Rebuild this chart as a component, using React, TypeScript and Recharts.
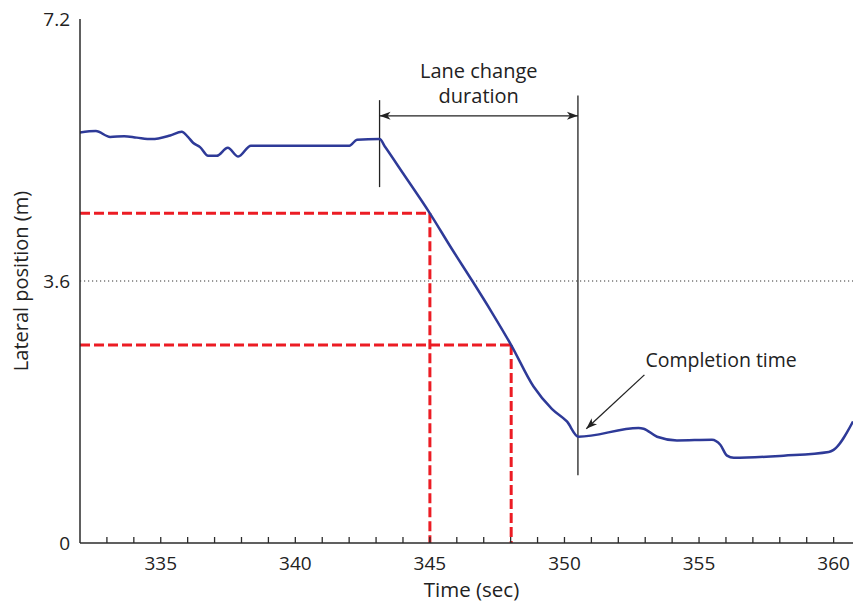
import { LineChart, Line, XAxis, YAxis, ReferenceLine } from 'recharts'

// lateral position trace (sec, m)
const times = [
	332.0, 332.59, 333.12, 333.64, 334.11, 334.67, 335.35, 335.78, 336.01, 336.2, 336.46, 336.76, 337.08,
	337.49, 337.88, 338.35, 342.01, 342.29, 343.13, 343.34, 344.0, 345.0, 345.8, 346.56, 347.3, 348.02,
	348.85, 349.54, 350.09, 350.52, 352.75, 352.94, 353.44, 354.18, 355.48, 355.79, 356.04, 356.29, 358.14,
	359.82, 360.0, 360.72,
]
const lateral = [
	5.64, 5.66, 5.58, 5.59, 5.57, 5.55, 5.6, 5.65, 5.58, 5.5, 5.44, 5.32, 5.32, 5.43, 5.31, 5.46, 5.46, 5.54,
	5.55, 5.44, 5.08, 4.53, 4.05, 3.61, 3.17, 2.72, 2.15, 1.84, 1.67, 1.46, 1.58, 1.57, 1.46, 1.41, 1.42, 1.35,
	1.2, 1.17, 1.2, 1.25, 1.28, 1.67,
]

const xTicks = Array.from({ length: 28 }, (_, i) => 333 + i)
const yTicks = [0, 3.6, 7.2]

// red guide lines
const markTimes = [345, 348.02]
const markValues = [4.53, 2.72]

// lane change annotation
const laneStart = 343.13
const laneEnd = 350.5
const laneStartSpan = [4.89, 6.085]
const laneEndSpan = [0.93, 6.15]
const arrowLevel = 5.87

// completion time arrow
const completionTip = [350.81, 1.57]
const completionTail = [352.97, 2.31]

const data = times.map((t, i) => ({ t, v: lateral[i] }))

const INK = '#2b2b2b'
const FONT = '"Open Sans", sans-serif'

const BottomTick = (props: any) => {
	const { x, y, payload } = props
	return (
		<g>
			<line x1={x} x2={x} y1={y} y2={y - 6} stroke={INK} strokeWidth={1.3} />
			{payload.value % 5 === 0 && (
				<text x={x} y={y + 27} textAnchor="middle" fontSize={19} fill="#222" fontFamily={FONT}>
					{payload.value}
				</text>
			)}
		</g>
	)
}

const TopTick = (props: any) => {
	const { x, y } = props
	return <line x1={x} x2={x} y1={y} y2={y + 6} stroke={INK} strokeWidth={1.3} />
}

const head = (x: number, y: number, dx: number, dy: number) => {
	const len = Math.hypot(dx, dy)
	const ux = dx / len
	const uy = dy / len
	const L = 11
	const W = 4
	const bx = x - ux * L
	const by = y - uy * L
	return `${x},${y} ${bx - uy * W},${by + ux * W} ${bx + ux * 3},${by + uy * 3} ${bx + uy * W},${by - ux * W}`
}

const LaneArrow = (props: any) => {
	const { x1, y1, x2, y2 } = props
	const mx = (x1 + x2) / 2
	return (
		<g>
			<line x1={x1} y1={y1} x2={x2} y2={y2} stroke="#222" strokeWidth={1.3} />
			<polygon points={head(x2, y2, 1, 0)} fill="#222" />
			<polygon points={head(x1, y1, -1, 0)} fill="#222" />
			<text x={mx} y={y1 - 38} textAnchor="middle" fontSize={20} fill="#222" fontFamily={FONT}>
				Lane change
			</text>
			<text x={mx} y={y1 - 13} textAnchor="middle" fontSize={20} fill="#222" fontFamily={FONT}>
				duration
			</text>
		</g>
	)
}

const CompletionArrow = (props: any) => {
	const { x1, y1, x2, y2 } = props
	return (
		<g>
			<line x1={x1} y1={y1} x2={x2} y2={y2} stroke="#222" strokeWidth={1.3} />
			<polygon points={head(x2, y2, x2 - x1, y2 - y1)} fill="#222" />
			<text x={x1 + 1} y={y1 - 8} fontSize={19.5} fill="#222" fontFamily={FONT}>
				Completion time
			</text>
		</g>
	)
}

const YLabel = (props: any) => {
	const { viewBox } = props
	const cx = 20
	const cy = viewBox.y + viewBox.height / 2
	return (
		<text
			x={cx}
			y={cy}
			transform={`rotate(-90, ${cx}, ${cy})`}
			textAnchor="middle"
			dominantBaseline="central"
			fontSize={20}
			fill="#222"
			fontFamily={FONT}>
			Lateral position (m)
		</text>
	)
}

export default function App() {
	return (
		<div style={{ position: 'absolute', left: 0, top: 0, fontFamily: FONT }}>
			<LineChart width={853} height={605} data={data} margin={{ top: 19, right: 0, left: 0, bottom: 0 }}>
				<XAxis
					dataKey="t"
					type="number"
					domain={[332, 360.72]}
					ticks={xTicks}
					allowDataOverflow
					height={62}
					axisLine={{ stroke: INK, strokeWidth: 1.5 }}
					tickLine={false}
					tickSize={0}
					tickMargin={0}
					tick={<BottomTick />}
					interval={0}
					label={{ value: 'Time (sec)', position: 'insideBottom', offset: 8, dx: 5, fontSize: 20.5, fill: '#222' }}
				/>
				<XAxis
					xAxisId="top"
					dataKey="t"
					type="number"
					orientation="top"
					domain={[332, 360.72]}
					ticks={xTicks}
					allowDataOverflow
					height={0}
					axisLine={{ stroke: INK, strokeWidth: 1.5 }}
					tickLine={false}
					tickSize={0}
					tickMargin={0}
					tick={<TopTick />}
					interval={0}
				/>
				<YAxis
					type="number"
					domain={[0, 7.2]}
					ticks={yTicks}
					width={80}
					axisLine={{ stroke: INK, strokeWidth: 1.5 }}
					tickLine={false}
					tickSize={0}
					tickMargin={10}
					tick={{ fontSize: 19, fill: '#222', fontFamily: FONT }}
					label={<YLabel />}
				/>
				<ReferenceLine y={3.6} stroke="#333" strokeWidth={1} strokeDasharray="1.2 2.8" />
				{markTimes.map((t, i) => (
					<ReferenceLine
						key={`h${i}`}
						segment={[
							{ x: 332, y: markValues[i] },
							{ x: t, y: markValues[i] },
						]}
						stroke="#ec1c24"
						strokeWidth={3}
						strokeDasharray="10 4"
					/>
				))}
				{markTimes.map((t, i) => (
					<ReferenceLine
						key={`v${i}`}
						segment={[
							{ x: t, y: markValues[i] },
							{ x: t, y: 0 },
						]}
						stroke="#ec1c24"
						strokeWidth={3}
						strokeDasharray="10 4"
					/>
				))}
				<ReferenceLine
					segment={[
						{ x: laneStart, y: laneStartSpan[0] },
						{ x: laneStart, y: laneStartSpan[1] },
					]}
					stroke="#222"
					strokeWidth={1.3}
				/>
				<ReferenceLine
					segment={[
						{ x: laneEnd, y: laneEndSpan[0] },
						{ x: laneEnd, y: laneEndSpan[1] },
					]}
					stroke="#222"
					strokeWidth={1.3}
				/>
				<ReferenceLine
					segment={[
						{ x: laneStart, y: arrowLevel },
						{ x: laneEnd, y: arrowLevel },
					]}
					shape={<LaneArrow />}
				/>
				<ReferenceLine
					segment={[
						{ x: completionTail[0], y: completionTail[1] },
						{ x: completionTip[0], y: completionTip[1] },
					]}
					shape={<CompletionArrow />}
				/>
				<Line
					type="monotone"
					dataKey="v"
					stroke="#2e3a98"
					strokeWidth={2.5}
					dot={false}
					isAnimationActive={false}
				/>
			</LineChart>
		</div>
	)
}
